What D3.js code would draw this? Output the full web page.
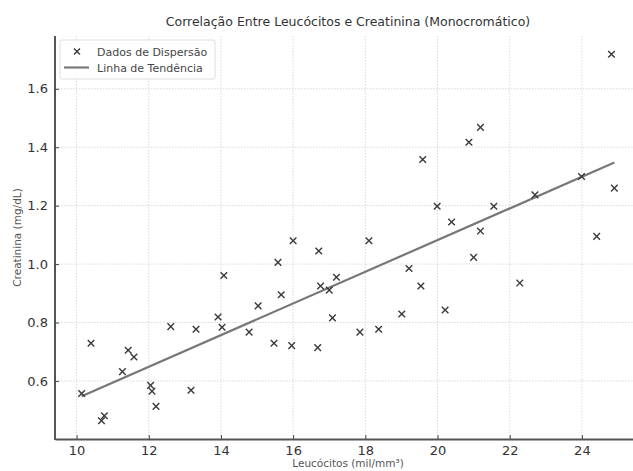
<!DOCTYPE html>
<html><head><meta charset="utf-8">
<script src="https://cdn.jsdelivr.net/npm/d3@7"></script>
<style>body{margin:0;background:#fff;} svg{display:block;font-family:"DejaVu Sans",sans-serif;}</style>
</head><body>
<script>
const leucocitos = [10.14,10.40,10.69,10.77,11.27,11.43,11.59,12.05,12.09,12.20,12.61,13.17,13.31,13.92,14.03,14.08,14.78,15.03,15.47,15.58,15.67,15.96,16.00,16.68,16.71,16.76,17.00,17.09,17.20,17.85,18.10,18.37,19.01,19.21,19.54,19.59,19.99,20.21,20.39,20.87,21.00,21.19,21.19,21.56,22.28,22.70,23.99,24.41,24.82,24.90];
const creatinina = [0.557,0.729,0.464,0.481,0.632,0.705,0.682,0.585,0.565,0.513,0.786,0.568,0.777,0.819,0.784,0.961,0.767,0.857,0.729,1.006,0.895,0.721,1.080,0.714,1.045,0.925,0.911,0.816,0.955,0.767,1.080,0.777,0.829,0.985,0.925,1.358,1.198,0.843,1.144,1.417,1.023,1.113,1.468,1.198,0.935,1.237,1.300,1.095,1.718,1.260];
const xTicks = [10,12,14,16,18,20,22,24];
const yTicks = [0.6,0.8,1.0,1.2,1.4,1.6];
const titleText = "Correlação Entre Leucócitos e Creatinina (Monocromático)";
const xLabel = "Leucócitos (mil/mm³)";
const yLabel = "Creatinina (mg/dL)";
const legendLabels = ["Dados de Dispersão","Linha de Tendência"];

const W=633,H=471;
const L=55,R=641,T=36,B=439;
const svg=d3.select("body").append("svg").attr("width",W).attr("height",H);

const xmin=d3.min(leucocitos), xmax=d3.max(leucocitos);
const ymin=d3.min(creatinina), ymax=d3.max(creatinina);
const xpad=(xmax-xmin)*0.05, ypad=(ymax-ymin)*0.05;
const x=d3.scaleLinear().domain([xmin-xpad,xmax+xpad]).range([L,R]);
const y=d3.scaleLinear().domain([ymin-ypad,ymax+ypad]).range([B,T]);

// grid
const g=svg.append("g");
g.selectAll(".gx").data(xTicks).join("line")
 .attr("x1",d=>x(d)).attr("x2",d=>x(d)).attr("y1",T).attr("y2",B)
 .attr("stroke","#cfcfcf").attr("stroke-width",0.8).attr("stroke-dasharray","1.5,1.5");
g.selectAll(".gy").data(yTicks).join("line")
 .attr("y1",d=>y(d)).attr("y2",d=>y(d)).attr("x1",L).attr("x2",R)
 .attr("stroke","#cfcfcf").attr("stroke-width",0.8).attr("stroke-dasharray","1.5,1.5");

// regression
const n=leucocitos.length;
const mx=d3.mean(leucocitos), my=d3.mean(creatinina);
let sxy=0,sxx=0;
for(let i=0;i<n;i++){sxy+=(leucocitos[i]-mx)*(creatinina[i]-my);sxx+=(leucocitos[i]-mx)**2;}
const slope=sxy/sxx, icpt=my-slope*mx;
const line=d3.line().x(d=>x(d)).y(d=>y(slope*d+icpt));
svg.append("path").attr("d",line([xmin,xmax])).attr("stroke","#777").attr("stroke-width",2.2).attr("fill","none");

// points
const s=3.3;
const pts=svg.append("g");
leucocitos.forEach((v,i)=>{
  const px=x(v),py=y(creatinina[i]);
  pts.append("path").attr("d",`M${px-s},${py-s}L${px+s},${py+s}M${px-s},${py+s}L${px+s},${py-s}`)
   .attr("stroke","#3a3a3a").attr("stroke-width",1.4).attr("fill","none");
});

// axes
const xa=d3.axisBottom(x).tickValues(xTicks).tickSizeInner(-4).tickSizeOuter(0).tickPadding(7).tickFormat(d3.format("d"));
const ya=d3.axisLeft(y).tickValues(yTicks).tickSizeInner(-4).tickSizeOuter(0).tickPadding(7).tickFormat(d3.format(".1f"));
const gx=svg.append("g").attr("transform",`translate(0,${B})`).call(xa);
const gy=svg.append("g").attr("transform",`translate(${L},0)`).call(ya);
[gx,gy].forEach(a=>{
  a.select(".domain").attr("stroke","#555").attr("stroke-width",2);
  a.selectAll(".tick line").attr("stroke","#444").attr("stroke-width",1);
  a.selectAll("text").attr("fill","#333").attr("font-size",13).attr("font-family","DejaVu Sans");
});
gy.select(".domain").attr("d",`M0,${T}V${B}H1`);

// title and labels
svg.append("text").attr("x",(L+R)/2).attr("y",26).attr("text-anchor","middle")
 .attr("font-size",12.5).attr("fill","#333").text(titleText);
svg.append("text").attr("x",(L+R)/2).attr("y",467).attr("text-anchor","middle")
 .attr("font-size",10.5).attr("fill","#555").text(xLabel);
svg.append("text").attr("transform",`translate(21,${(T+B)/2}) rotate(-90)`).attr("text-anchor","middle")
 .attr("font-size",10.5).attr("fill","#555").text(yLabel);

// legend
const lg=svg.append("g");
lg.append("rect").attr("x",60).attr("y",40).attr("width",155).attr("height",39).attr("rx",2)
 .attr("fill","#fff").attr("fill-opacity",0.85).attr("stroke","#ddd").attr("stroke-width",1);
const lx=77, ly1=51.5, ly2=67.5;
lg.append("path").attr("d",`M${lx-3},${ly1-3}L${lx+3},${ly1+3}M${lx-3},${ly1+3}L${lx+3},${ly1-3}`)
 .attr("stroke","#3a3a3a").attr("stroke-width",1.4);
lg.append("line").attr("x1",64).attr("x2",89).attr("y1",ly2).attr("y2",ly2).attr("stroke","#777").attr("stroke-width",2.2);
lg.selectAll("text.l").data(legendLabels).join("text").attr("x",97).attr("y",(d,i)=>i?ly2+4:ly1+4)
 .attr("font-size",11).attr("fill","#444").text(d=>d);
</script>
</body></html>
